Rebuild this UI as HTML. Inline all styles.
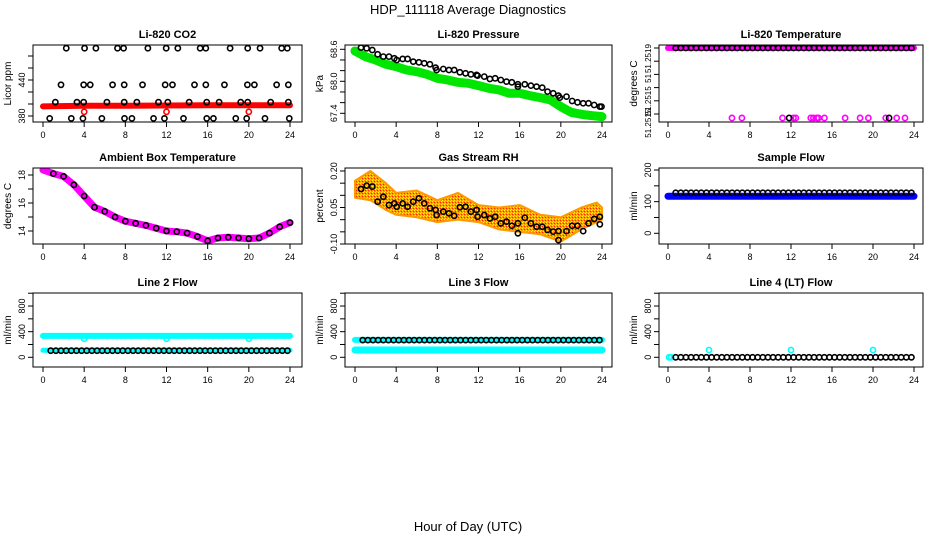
<!DOCTYPE html>
<html><head><meta charset="utf-8"><style>
html,body{margin:0;padding:0;background:#fff;}
svg{display:block;font-family:"Liberation Sans",sans-serif;}
</style></head><body>
<svg id="fig" width="936" height="540" viewBox="0 0 936 540" xmlns="http://www.w3.org/2000/svg">
<defs>
<pattern id="speck" width="3" height="3" patternUnits="userSpaceOnUse">
<rect width="3" height="3" fill="#ff9900"/><rect x="0" y="0" width="1" height="1" fill="#ffff00"/><rect x="2" y="1" width="1" height="1" fill="#ff2200"/><rect x="1" y="2" width="1" height="1" fill="#ffee00"/>
</pattern>
</defs>
<text x="468" y="14" text-anchor="middle" font-size="13">HDP_111118  Average Diagnostics</text>
<text x="468" y="531" text-anchor="middle" font-size="13">Hour of Day (UTC)</text>
</svg>
<script>
// ---- data ----
const xTicks = [0,4,8,12,16,20,24];
const circleHours = [0.75,1.25,1.75,2.25,2.75,3.25,3.75,4.25,4.75,5.25,5.75,6.25,6.75,7.25,7.75,8.25,8.75,9.25,9.75,10.25,10.75,11.25,11.75,12.25,12.75,13.25,13.75,14.25,14.75,15.25,15.75,16.25,16.75,17.25,17.75,18.25,18.75,19.25,19.75,20.25,20.75,21.25,21.75,22.25,22.75,23.25,23.75];
// CO2
const co2TopHours = [2.26,4.04,5.14,7.24,7.83,10.19,11.97,13.1,15.27,15.82,18.18,19.89,21.09,23.19,23.74];
const co2TopValues = [493,493,493,493,493,493,493,493,493,493,493,493,493,493,493];
const co2HighHours = [1.75,3.95,4.59,6.76,7.89,9.67,11.87,12.58,14.72,15.82,17.63,19.86,20.54,22.7,23.84];
const co2HighValues = [432,432,432,432,432,432,432,432,432,432,432,432,432,432,432];
const co2MidHours = [1.2,3.3,3.95,6.21,7.89,9.12,11.22,12.13,14.2,15.91,17.11,19.21,19.89,22.12,23.84];
const co2MidValues = [403,403,403,403,403,403,403,403,403,403,403,403,403,403,403];
const co2LowHours = [0.65,2.75,3.88,5.72,7.92,8.64,10.74,11.8,13.65,15.91,16.56,18.73,19.79,21.57,23.93];
const co2LowValues = [376,376,376,376,376,376,376,376,376,376,376,376,376,376,376];
const co2RedHours = [0,4,8,12,16,20,24];
const co2RedValues = [396,397,397,397.5,398,398,398];
const co2RedOutHours = [4,12,20];
const co2RedOutValues = [387,387,387];
// Pressure
const presHours = [0.58,1.13,1.68,2.2,2.75,3.3,3.82,4.05,4.63,5.11,5.66,6.21,6.73,7.28,7.83,7.93,8.58,9.13,9.64,10.19,10.74,11.26,11.81,11.91,12.56,13.11,13.62,14.17,14.72,15.24,15.83,15.83,16.5,17.09,17.64,18.19,18.71,19.26,19.77,19.9,20.55,21.1,21.62,22.17,22.69,23.24,23.79,23.95];
const presValues = [68.631,68.619,68.587,68.506,68.463,68.463,68.431,68.4,68.419,68.419,68.369,68.356,68.338,68.319,68.256,68.212,68.231,68.212,68.212,68.169,68.15,68.131,68.119,68.106,68.088,68.044,68.056,68.025,67.994,67.981,67.944,67.9,67.944,67.919,67.9,67.881,67.806,67.775,67.731,67.694,67.713,67.631,67.606,67.588,67.588,67.556,67.525,67.525];
const presGreenHours = [0,1,2,3,4,5,6,7,8,9,10,11,12,13,14,15,16,17,18,19,20,21,22,23,24];
const presGreenValues = [68.569,68.463,68.4,68.319,68.275,68.212,68.181,68.131,68.056,68.025,67.981,67.963,67.919,67.869,67.838,67.775,67.775,67.731,67.694,67.65,67.525,67.419,67.381,67.356,67.338];
// Li-820 temperature
const tempTopValue = [51.2519];
const tempLowMagentaHours = [6.24,7.21,11.17,12.24,12.47,13.93,14.19,14.52,14.68,15.26,17.28,18.74,19.55,21.24,22.31,23.12];
const tempLowBlackHours = [11.82,21.57];
const tempLowValue = [51.25137];
// Ambient box temperature
const ambHours = [0,1,2,3,4,5,6,7,8,9,10,11,12,13,14,15,16,17,18,19,20,21,22,23,24];
const ambValues = [18.36,18.1,17.9,17.3,16.5,15.7,15.4,15.0,14.7,14.55,14.4,14.2,14.0,13.95,13.85,13.6,13.3,13.5,13.55,13.5,13.45,13.5,13.85,14.3,14.6];
// Gas stream RH
const rhHours = [0.58,1.13,1.68,2.2,2.75,3.3,3.82,4.05,4.63,5.11,5.66,6.21,6.73,7.28,7.83,7.93,8.58,9.13,9.64,10.19,10.74,11.26,11.81,11.91,12.56,13.11,13.62,14.17,14.72,15.24,15.83,15.83,16.5,17.09,17.64,18.19,18.71,19.26,19.77,19.77,20.55,21.1,21.62,22.17,22.69,23.24,23.79,23.79];
const rhValues = [0.126,0.14,0.136,0.074,0.094,0.06,0.067,0.053,0.067,0.053,0.074,0.088,0.067,0.047,0.04,0.019,0.033,0.026,0.016,0.051,0.053,0.033,0.04,0.012,0.019,0.005,0.012,-0.015,-0.008,-0.025,-0.015,-0.056,0.008,-0.015,-0.029,-0.029,-0.042,-0.049,-0.047,-0.084,-0.047,-0.025,-0.025,-0.047,-0.015,0.003,0.012,-0.019];
const rhBandHours = [0,1.5,3,4,6,8,10,12,14,16,18,20,22,23.5,24];
const rhBandLo = [0.09,0.08,0.04,0.02,0.01,-0.01,0.0,-0.01,-0.04,-0.05,-0.06,-0.09,-0.04,-0.01,0.0];
const rhBandHi = [0.16,0.2,0.15,0.11,0.12,0.08,0.11,0.06,0.05,0.06,0.02,0.01,0.05,0.07,0.05];
// Sample flow
const sampleBlackValue = [128];
const sampleBlueHours = [0,24];
const sampleBlueValues = [117,117];
// Line flows
const line2CyanHours = [0,24];
const line2CyanHigh = [335,335];
const line2CyanLow = [110,110];
const line2DipHours = [4,12,20];
const line2DipValues = [290,290,290];
const line2BlackValue = [103];
const line3CyanHours = [0,24];
const line3CyanHigh = [272,272];
const line3CyanLow = [114,114];
const line3BlackValue = [268];
const line4BlackValue = [0];
const line4SpikeHours = [4,12,20];
const line4SpikeValues = [114,114,114];

// ---- layout ----
const NS = "http://www.w3.org/2000/svg";
const svg = document.getElementById('fig');
const cols = [{bl:33,br:302,x0:43,x24:290},{bl:345,br:612,x0:355,x24:602},{bl:659,br:923,x0:668,x24:914}];
const rows = [{bt:45,bb:122},{bt:168,bb:244},{bt:293,bb:367}];
function mk(tag, attrs, parent){const e=document.createElementNS(NS,tag);for(const k in attrs)e.setAttribute(k,attrs[k]);(parent||svg).appendChild(e);return e;}

function panel(r,c,title,ytitle,v1,y1,v2,y2,ticks,labels,name,lfs){
  const C=cols[c],R=rows[r];
  const g=mk('g',{});
  
  
  const xs=h=>C.x0+(C.x24-C.x0)*h/24;
  const ys=v=>y1+(v-v1)*(y2-y1)/(v2-v1);
  const clip=mk('clipPath',{id:'clip-'+name},g);
  mk('rect',{x:C.bl,y:R.bt,width:C.br-C.bl,height:R.bb-R.bt},clip);
  const plot=mk('g',{'clip-path':'url(#clip-'+name+')'},g);
  
  
  const t=mk('text',{x:(C.bl+C.br)/2,y:R.bt-7,'text-anchor':'middle','font-size':'11','font-weight':'bold'},g);
  t.textContent=title;
  
  
  const yt=mk('text',{transform:`translate(${C.bl-22},${(R.bt+R.bb)/2}) rotate(-90)`,'text-anchor':'middle','font-size':'10'},g);
  yt.textContent=ytitle;
  
  
  const xa=mk('g',{},g);
  
  
  mk('line',{x1:xs(0),x2:xs(24),y1:R.bb,y2:R.bb,stroke:'#000'},xa);
  xTicks.forEach(h=>{
    mk('line',{x1:xs(h),x2:xs(h),y1:R.bb,y2:R.bb+5,stroke:'#000'},xa);
    const l=mk('text',{x:xs(h),y:R.bb+16,'text-anchor':'middle','font-size':'9'},xa);
    l.textContent=h;
  });
  const ya=mk('g',{},g);
  
  
  ticks.forEach(v=>mk('line',{x1:C.bl-5,x2:C.bl,y1:ys(v),y2:ys(v),stroke:'#000'},ya));
  labels.forEach(([v,s])=>{
    const l=mk('text',{transform:`translate(${C.bl-8},${ys(v)}) rotate(-90)`,'text-anchor':'middle','font-size':lfs||'9'},ya);
    l.textContent=s;
  });
  mk('rect',{x:C.bl,y:R.bt,width:C.br-C.bl,height:R.bb-R.bt,fill:'none',stroke:'#000'},g);
  return {plot,xs,ys};
}
function circles(P,hours,vals,color,nm){
  const g=mk('g',{},P.plot);
  
  
  hours.forEach((h,i)=>{
    const v=Array.isArray(vals)?(vals.length===hours.length?vals[i]:vals[0]):vals;
    mk('circle',{cx:P.xs(h),cy:P.ys(v),r:2.6,fill:'none',stroke:color,'stroke-width':1.6},g);
  });
}
function band(P,hours,vals,color,w,nm){
  const p=mk('polyline',{points:hours.map((h,i)=>P.xs(h)+','+P.ys(vals[i])).join(' '),fill:'none',stroke:color,'stroke-width':w,'stroke-linecap':'round','stroke-linejoin':'round'},P.plot);
  
  
}

// CO2
let P=panel(0,0,'Li-820 CO2','Licor ppm',380,116,480,56,[380,400,420,440,460,480],[[380,'380'],[440,'440']],'co2');
band(P,co2RedHours,co2RedValues,'#ff0000',6,'co2-red-band');
circles(P,co2RedOutHours,co2RedOutValues,'#ff0000','co2-red-outliers');
circles(P,co2TopHours,co2TopValues,'#000','co2-top-points');
circles(P,co2HighHours,co2HighValues,'#000','co2-high-points');
circles(P,co2MidHours,co2MidValues,'#000','co2-mid-points');
circles(P,co2LowHours,co2LowValues,'#000','co2-low-points');
// Pressure
P=panel(0,1,'Li-820 Pressure','kPa',68.6,49.3,67.4,113.3,[67.4,67.6,67.8,68.0,68.2,68.4,68.6],[[68.6,'68.6'],[68.0,'68.0'],[67.4,'67.4']],'pressure');
band(P,presGreenHours,presGreenValues,'#00e600',9,'pressure-green-band');
circles(P,presHours,presValues,'#000','pressure-points');
// Li-820 Temperature
P=panel(0,2,'Li-820 Temperature','degrees C',51.2519,48,51.2514,114,[51.2519,51.2518,51.2517,51.2516,51.2515,51.2514],[[51.25182,'51.2519'],[51.25167,'51'],[51.25150,'51.2515'],[51.25133,'51.2515']],'li820-temp','8');
band(P,[0,24],[tempTopValue[0],tempTopValue[0]],'#ff00ff',6,'temp-magenta-band');
circles(P,circleHours,tempTopValue,'#000','temp-top-points');
circles(P,tempLowMagentaHours,tempLowValue,'#ff00ff','temp-low-magenta-points');
circles(P,tempLowBlackHours,tempLowValue,'#000','temp-low-black-points');
// Ambient
P=panel(1,0,'Ambient Box Temperature','degrees C',18,175,14,231,[14,15,16,17,18],[[18,'18'],[16,'16'],[14,'14']],'ambient');
band(P,ambHours,ambValues,'#ff00ff',7,'ambient-magenta-band');
circles(P,ambHours.slice(1),ambValues.slice(1),'#000','ambient-points');
// RH
P=panel(1,1,'Gas Stream RH','percent',0.2,171,-0.1,244,[0.2,0.15,0.1,0.05,0,-0.05,-0.1],[[0.2,'0.20'],[0.05,'0.05'],[-0.1,'-0.10']],'rh');
{const pts=rhBandHours.map((h,i)=>P.xs(h)+','+P.ys(rhBandHi[i])).concat(rhBandHours.slice().reverse().map((h,j)=>{const i=rhBandHours.length-1-j;return P.xs(h)+','+P.ys(rhBandLo[i]);})).join(' ');
const poly=mk('polygon',{points:pts,fill:'url(#speck)',stroke:'#ff9900','stroke-width':2,'stroke-linejoin':'round'},P.plot);

}
circles(P,rhHours,rhValues,'#000','rh-points');
// Sample flow
P=panel(1,2,'Sample Flow','ml/min',0,233.3,200,170,[0,50,100,150,200],[[0,'0'],[100,'100'],[200,'200']],'sample-flow');
band(P,sampleBlueHours,sampleBlueValues,'#0000ff',7,'sample-blue-band');
circles(P,circleHours,sampleBlackValue,'#000','sample-points');
// Line flows
const fT=[0,200,400,600,800,1000], fL=[[0,'0'],[400,'400'],[800,'800']];
P=panel(2,0,'Line 2 Flow','ml/min',0,357.3,1000,293.2,fT,fL,'line2');
band(P,line2CyanHours,line2CyanHigh,'#00ffff',6,'line2-cyan-high');
band(P,line2CyanHours,line2CyanLow,'#00ffff',5,'line2-cyan-low');
circles(P,line2DipHours,line2DipValues,'#00ffff','line2-dips');
circles(P,circleHours,line2BlackValue,'#000','line2-points');
P=panel(2,1,'Line 3 Flow','ml/min',0,357.3,1000,293.2,fT,fL,'line3');
band(P,line3CyanHours,line3CyanHigh,'#00ffff',6,'line3-cyan-high');
band(P,line3CyanHours,line3CyanLow,'#00ffff',7,'line3-cyan-low');
circles(P,circleHours,line3BlackValue,'#000','line3-points');
P=panel(2,2,'Line 4 (LT) Flow','ml/min',0,357.3,1000,293.2,fT,fL,'line4');
circles(P,[0.1,0.3],[0],'#00ffff','line4-cyan-start');
circles(P,line4SpikeHours,line4SpikeValues,'#00ffff','line4-spikes');
circles(P,circleHours,line4BlackValue,'#000','line4-points');
</script>
</body></html>
